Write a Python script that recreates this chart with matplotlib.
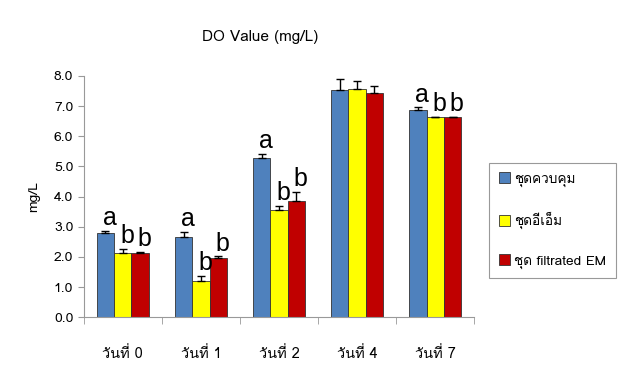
import numpy as np
import matplotlib
matplotlib.use("Agg")
from matplotlib import pyplot as plt
from matplotlib import font_manager
from matplotlib.ft2font import FT2Font

# find a font that has Thai glyphs
thai_font = None
for f in font_manager.fontManager.ttflist:
    try:
        cmap = FT2Font(f.fname).get_charmap()
        if 0x0E27 in cmap and 0x0E38 in cmap:
            thai_font = f.name
            break
    except Exception:
        pass
fam = [thai_font, 'DejaVu Sans'] if thai_font else ['DejaVu Sans']
plt.rcParams['font.family'] = fam

days = ["วันที่ 0", "วันที่ 1", "วันที่ 2", "วันที่ 4", "วันที่ 7"]
series = ["ชุดควบคุม", "ชุดอีเอ็ม", "ชุด filtrated EM"]
control = [2.81, 2.66, 5.29, 7.54, 6.86]
em = [2.13, 1.21, 3.56, 7.58, 6.64]
filtrated = [2.14, 1.97, 3.86, 7.42, 6.64]
control_err = [0.05, 0.17, 0.13, 0.35, 0.10]
em_err = [0.14, 0.16, 0.13, 0.25, 0.0]
filtrated_err = [0.03, 0.05, 0.30, 0.23, 0.0]
control_sig = ["a", "a", "a", "", "a"]
em_sig = ["b", "b", "b", "", "b"]
filtrated_sig = ["b", "b", "b", "", "b"]

colors = ["#4F81BD", "#FFFF00", "#C00000"]

fig = plt.figure(figsize=(6.2, 3.87), dpi=100)
ax = fig.add_axes([0.135, 0.18, 0.63, 0.624])

x = np.arange(len(days))
w = 0.222
vals = [control, em, filtrated]
errs = [control_err, em_err, filtrated_err]
sigs = [control_sig, em_sig, filtrated_sig]
for i in range(3):
    pos = x + (i - 1) * w
    err = np.array(errs[i])
    ax.bar(pos, vals[i], w, color=colors[i], edgecolor="#333333", linewidth=0.6,
           label=series[i], zorder=2)
    ax.errorbar(pos, vals[i], yerr=[np.zeros_like(err), err], fmt='none',
                ecolor='black', elinewidth=1, capsize=3, capthick=1, zorder=3)
    for j in range(len(days)):
        if sigs[i][j]:
            ax.annotate(sigs[i][j], (pos[j], vals[i][j] + errs[i][j]),
                        xytext=(3, 4), textcoords='offset points',
                        ha='center', va='baseline', fontsize=18,
                        family=['Liberation Sans', 'DejaVu Sans'])

ax.set_xlim(-0.5, 4.5)
ax.set_ylim(0, 8)
ax.set_yticks(np.arange(0, 8.1, 1.0))
ax.set_yticklabels(["%.1f" % v for v in np.arange(0, 8.1, 1.0)], fontsize=10)
ax.set_xticks(x)
ax.set_xticklabels(days, fontsize=10.5)
ax.set_xticks(np.arange(-0.5, 4.6, 1.0), minor=True)
ax.tick_params(axis='x', which='major', length=0, pad=21)
ax.tick_params(axis='x', which='minor', length=5, color='#999999', direction='out')
ax.tick_params(axis='y', length=4, color='#999999', direction='out')
for s in ['top', 'right']:
    ax.spines[s].set_visible(False)
for s in ['left', 'bottom']:
    ax.spines[s].set_color('#999999')
ax.set_ylabel("mg/L", fontsize=10, labelpad=10)

fig.text(0.419, 0.905, "DO Value (mg/L)", ha='center', va='center', fontsize=11)

leg = fig.legend(loc='upper left', bbox_to_anchor=(0.789, 0.579), fontsize=9.8,
                 fancybox=False, edgecolor='#808080', labelspacing=1.85,
                 handlelength=0.86, handleheight=0.86, handletextpad=0.3,
                 borderpad=0.7, borderaxespad=0)
leg.get_frame().set_linewidth(0.8)

fig.savefig("out.png", dpi=100)
